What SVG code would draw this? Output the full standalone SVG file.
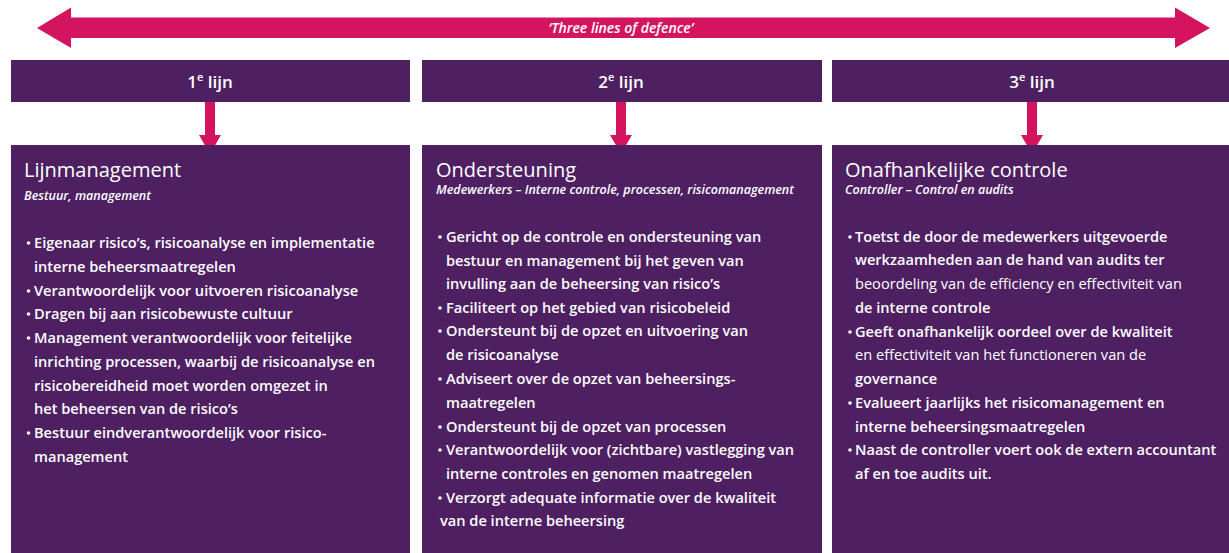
<svg xmlns="http://www.w3.org/2000/svg" width="1229" height="553" viewBox="0 0 1229 553">
<style>
.box{fill:#4E2062}
.pink{fill:#D4145F}
.dot{fill:#fff}
.hdr{font-family:"Open Sans",Lato,sans-serif;font-size:17px;fill:#fff;text-anchor:middle;font-weight:600}
.sup{font-size:11px}
.ttl{font-family:"Open Sans",Lato,sans-serif;font-size:20px;fill:#fff}
.sub{font-family:"Open Sans",Lato,sans-serif;font-size:12.5px;fill:#fff;font-style:italic;font-weight:600}
.b{font-family:"Open Sans",Lato,sans-serif;font-size:14.6px;fill:#fff;font-weight:600}
.l{font-weight:400}
.lbl{font-family:"Open Sans",Lato,sans-serif;font-size:14px;fill:#fff;font-style:italic;text-anchor:middle;font-weight:600}
</style>
<rect width="1229" height="553" fill="#fff"/>
<g id="connectors">
<polygon class="pink" points="37,28 71,7.5 71,17.5 1175,17.5 1175,7.5 1210,28 1175,48 1175,38 71,38 71,48"/>
<text class="lbl" x="621" y="33">‘Three lines of defence’</text>
<rect class="pink" x="205" y="97" width="10" height="40"/>
<polygon class="pink" points="199,135 221,135 210,154"/>
<rect class="pink" x="616" y="97" width="10" height="40"/>
<polygon class="pink" points="610,135 632,135 621,154"/>
<rect class="pink" x="1027" y="97" width="10" height="40"/>
<polygon class="pink" points="1021,135 1043,135 1032,154"/>
</g>
<g id="h1"><rect class="box" x="11" y="60" width="399" height="42"/><text class="hdr" x="210" y="88">1<tspan class="sup" dy="-7">e</tspan><tspan dy="7"> lijn</tspan></text></g>
<g id="h2"><rect class="box" x="422" y="60" width="400" height="42"/><text class="hdr" x="621" y="88">2<tspan class="sup" dy="-7">e</tspan><tspan dy="7"> lijn</tspan></text></g>
<g id="h3"><rect class="box" x="832" y="60" width="397" height="42"/><text class="hdr" x="1032" y="88">3<tspan class="sup" dy="-7">e</tspan><tspan dy="7"> lijn</tspan></text></g>
<g id="c1">
<rect class="box" x="11" y="145" width="399" height="408"/>
<text class="ttl" x="24" y="177">Lijnmanagement</text>
<text class="sub" x="24" y="200">Bestuur, management</text>
<circle class="dot" cx="28.5" cy="243" r="1.8"/><text class="b" x="34" y="248">Eigenaar risico’s, risicoanalyse en implementatie</text>
<text class="b" x="34" y="272">interne beheersmaatregelen</text>
<circle class="dot" cx="28.5" cy="291" r="1.8"/><text class="b" x="34" y="296">Verantwoordelijk voor uitvoeren risicoanalyse</text>
<circle class="dot" cx="28.5" cy="314" r="1.8"/><text class="b" x="34" y="319">Dragen bij aan risicobewuste cultuur</text>
<circle class="dot" cx="28.5" cy="338" r="1.8"/><text class="b" x="34" y="343">Management verantwoordelijk voor feitelijke</text>
<text class="b" x="34" y="367">inrichting processen, waarbij de risicoanalyse en</text>
<text class="b" x="34" y="391">risicobereidheid moet worden omgezet in</text>
<text class="b" x="34" y="414">het beheersen van de risico’s</text>
<circle class="dot" cx="28.5" cy="433" r="1.8"/><text class="b" x="34" y="438">Bestuur eindverantwoordelijk voor risico-</text>
<text class="b" x="34" y="462">management</text>
</g>
<g id="c2">
<rect class="box" x="422" y="145" width="400" height="408"/>
<text class="ttl" x="436" y="177">Ondersteuning</text>
<text class="sub" x="436" y="194">Medewerkers  –  Interne controle, processen, risicomanagement</text>
<circle class="dot" cx="440" cy="237" r="1.8"/><text class="b" x="446" y="242">Gericht op de controle en ondersteuning van</text>
<text class="b" x="446" y="266">bestuur en management bij het geven van</text>
<text class="b" x="446" y="289">invulling aan de beheersing van risico’s</text>
<circle class="dot" cx="440" cy="308" r="1.8"/><text class="b" x="446" y="313">Faciliteert op het gebied van risicobeleid</text>
<circle class="dot" cx="440" cy="331" r="1.8"/><text class="b" x="446" y="336">Ondersteunt bij de opzet en uitvoering van</text>
<text class="b" x="446" y="360">de risicoanalyse</text>
<circle class="dot" cx="440" cy="379" r="1.8"/><text class="b" x="446" y="384">Adviseert over de opzet van beheersings-</text>
<text class="b" x="446" y="408">maatregelen</text>
<circle class="dot" cx="440" cy="427" r="1.8"/><text class="b" x="446" y="432">Ondersteunt bij de opzet van processen</text>
<circle class="dot" cx="440" cy="450" r="1.8"/><text class="b" x="446" y="455">Verantwoordelijk voor (zichtbare) vastlegging van</text>
<text class="b" x="446" y="479">interne controles en genomen maatregelen</text>
<circle class="dot" cx="440" cy="498" r="1.8"/><text class="b" x="446" y="503">Verzorgt adequate informatie over de kwaliteit</text>
<text class="b" x="440" y="526">van de interne beheersing</text>
</g>
<g id="c3">
<rect class="box" x="832" y="145" width="397" height="408"/>
<text class="ttl" x="845" y="177">Onafhankelijke controle</text>
<text class="sub" x="845" y="194">Controller  –  Control en audits</text>
<circle class="dot" cx="850" cy="237" r="1.8"/><text class="b" x="855" y="242">Toetst de door de medewerkers uitgevoerde</text>
<text class="b" x="855" y="265">werkzaamheden aan de hand van audits ter</text>
<text class="b l" x="855" y="289">beoordeling van de efficiency en effectiviteit van</text>
<text class="b" x="855" y="313">de interne controle</text>
<circle class="dot" cx="850" cy="332" r="1.8"/><text class="b" x="855" y="337">Geeft onafhankelijk oordeel over de kwaliteit</text>
<text class="b l" x="855" y="360">en effectiviteit van het functioneren van de</text>
<text class="b" x="855" y="384">governance</text>
<circle class="dot" cx="850" cy="403" r="1.8"/><text class="b" x="855" y="408">Evalueert jaarlijks het risicomanagement en</text>
<text class="b" x="855" y="432">interne beheersingsmaatregelen</text>
<circle class="dot" cx="850" cy="450" r="1.8"/><text class="b" x="855" y="455">Naast de controller voert ook de extern accountant</text>
<text class="b" x="855" y="479">af en toe audits uit.</text>
</g>
</svg>
